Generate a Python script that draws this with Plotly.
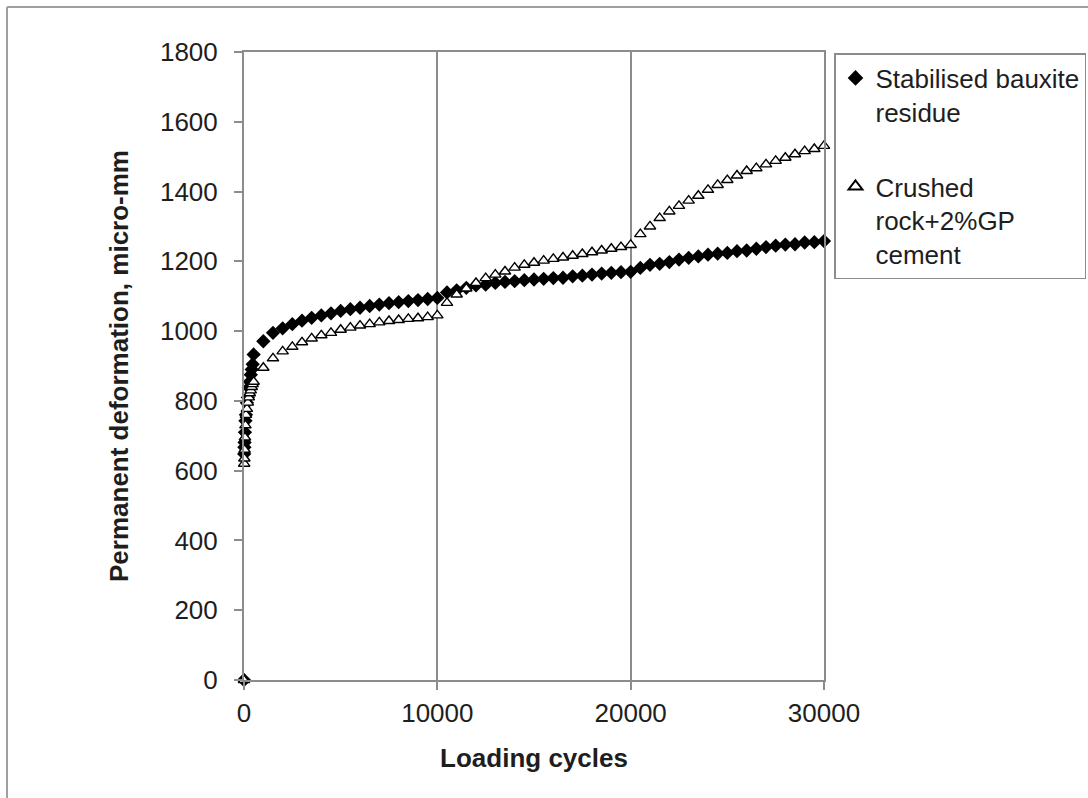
import plotly.graph_objects as go

# Loading cycles (same sampling for both series)
cycles_early = [0, 10, 20, 30, 50, 75, 100, 150, 200, 250, 300, 350, 400, 450, 500]
cycles_main = [1000, 1500, 2000, 2500, 3000, 3500, 4000, 4500, 5000, 5500, 6000, 6500,
               7000, 7500, 8000, 8500, 9000, 9500, 10000,
               10500, 11000, 11500, 12000, 12500, 13000, 13500, 14000, 14500, 15000,
               15500, 16000, 16500, 17000, 17500, 18000, 18500, 19000, 19500, 20000,
               20500, 21000, 21500, 22000, 22500, 23000, 23500, 24000, 24500, 25000,
               25500, 26000, 26500, 27000, 27500, 28000, 28500, 29000, 29500, 30000]
cycles = cycles_early + cycles_main

# Permanent deformation, micro-mm
bauxite = [0, 648, 667, 681, 710, 743, 760, 795, 810, 838, 855, 875, 890, 905, 933,
           971, 995, 1008, 1020, 1030, 1038, 1045, 1051, 1058, 1063, 1067, 1072,
           1076, 1080, 1083, 1086, 1089, 1092, 1095,
           1111, 1117, 1124, 1131, 1133, 1138, 1141, 1143, 1146, 1148,
           1150, 1152, 1153, 1157, 1159, 1162, 1165, 1167, 1169, 1170,
           1181, 1190, 1193, 1198, 1205, 1210, 1214, 1219, 1222, 1224,
           1229, 1231, 1236, 1241, 1245, 1248, 1249, 1254, 1255, 1258]
crushed = [0, 620, 635, 660, 695, 730, 760, 777, 795, 810, 822, 830, 840, 848, 855,
           895, 922, 942, 955, 968, 979, 988, 995, 1004, 1010, 1016, 1020,
           1025, 1029, 1032, 1035, 1037, 1040, 1045,
           1081, 1105, 1122, 1138, 1152, 1162, 1171, 1182, 1190, 1196,
           1202, 1207, 1211, 1216, 1221, 1226, 1231, 1236, 1241, 1247,
           1278, 1300, 1324, 1343, 1359, 1374, 1388, 1405, 1419, 1433,
           1446, 1459, 1467, 1478, 1488, 1497, 1507, 1516, 1522, 1531]

y_ticks = [0, 200, 400, 600, 800, 1000, 1200, 1400, 1600, 1800]
x_ticks = [0, 10000, 20000, 30000]

FONT = "Arial, Liberation Sans, sans-serif"
AX = "#8c8c8c"
TXT = "#1e1e1e"
FS = 26

fig = go.Figure()
fig.add_trace(go.Scatter(
    x=cycles, y=bauxite, mode="markers", name="Stabilised bauxite<br>residue",
    legendgroup="a", cliponaxis=False,
    marker=dict(symbol="diamond", size=11, color="black", line=dict(width=0))))
fig.add_trace(go.Scatter(
    x=cycles, y=crushed, mode="markers", name="Crushed<br>rock+2%GP<br>cement",
    legendgroup="b", cliponaxis=False,
    marker=dict(symbol="triangle-up", size=10, color="white",
                line=dict(width=1.4, color="black"))))

L, R, T, B = 244, 824, 52, 680
W, H = 1088, 798


def px(x):
    return (x - L) / (R - L)


def py(y):
    return (B - y) / (B - T)


fig.update_layout(
    width=W, height=H,
    margin=dict(l=L, r=W - R, t=T, b=H - B, autoexpand=False),
    paper_bgcolor="white", plot_bgcolor="white",
    font=dict(family=FONT, size=FS, color=TXT),
    showlegend=True,
    legend=dict(x=px(834), xanchor="left", y=py(53), yanchor="top",
                bordercolor=AX, borderwidth=1.5, bgcolor="white",
                font=dict(family=FONT, size=FS, color=TXT),
                traceorder="grouped", tracegroupgap=38, valign="top",
                itemwidth=30, itemsizing="constant"),
    xaxis=dict(range=[0, 30000], tickvals=x_ticks, ticktext=[str(v) for v in x_ticks],
               showline=True, linecolor=AX, linewidth=2, mirror=True,
               ticks="outside", ticklen=8, tickcolor=AX, tickwidth=2,
               ticklabelstandoff=1,
               showgrid=True, gridcolor=AX, gridwidth=1.5, zeroline=False,
               tickfont=dict(size=FS),
               title=dict(text="<b>Loading cycles</b>", font=dict(size=FS), standoff=22)),
    yaxis=dict(range=[0, 1800], tickvals=y_ticks,
               showline=True, linecolor=AX, linewidth=2, mirror=True,
               ticks="outside", ticklen=8, tickcolor=AX, tickwidth=2,
               ticklabelstandoff=11,
               showgrid=False, zeroline=False,
               tickfont=dict(size=FS),
               title=dict(text="<b>Permanent deformation, micro-mm</b>",
                          font=dict(size=FS), standoff=24)),
    shapes=[
        dict(type="line", xref="paper", yref="paper", x0=px(7), x1=px(1100),
             y0=py(7), y1=py(7), line=dict(color="#a0a0a0", width=2)),
        dict(type="line", xref="paper", yref="paper", x0=px(7), x1=px(7),
             y0=py(7), y1=py(810), line=dict(color="#a0a0a0", width=2)),
    ],
)

fig.write_html("out.html")
